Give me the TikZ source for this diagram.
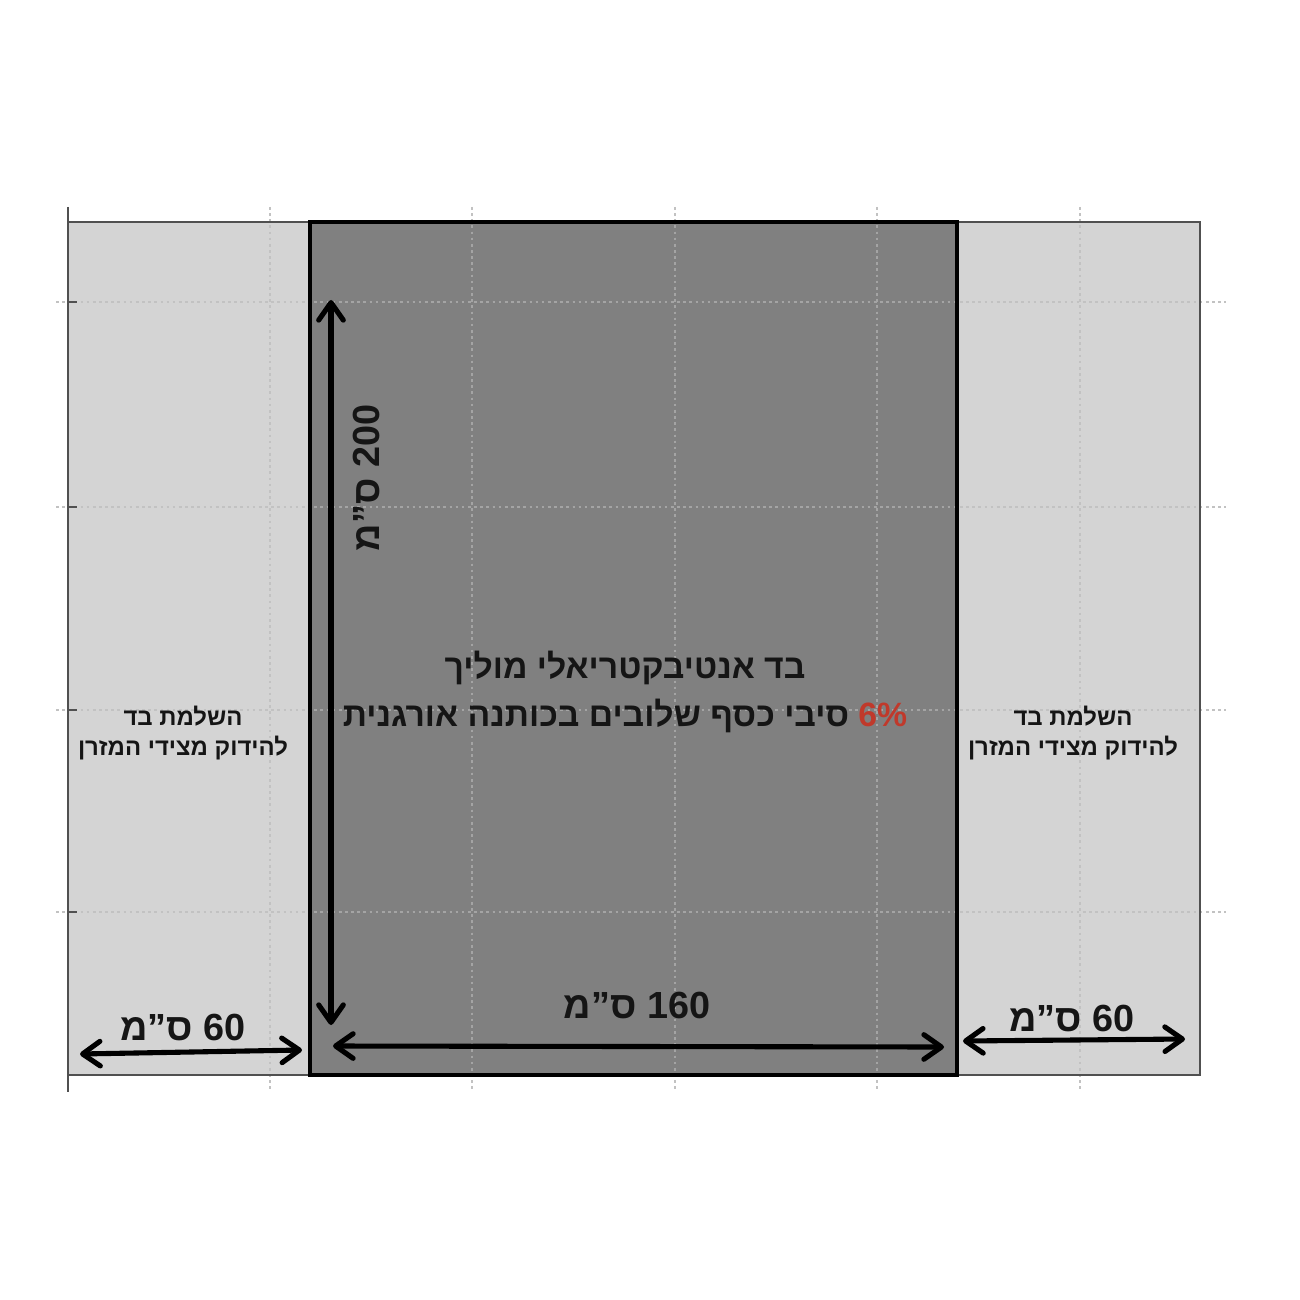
\documentclass[tikz,border=0pt]{standalone}
\usepackage{fontspec}
\setmainfont{Liberation Sans}
\newfontfamily\hebfont[Script=Hebrew]{Liberation Sans}
\TeXXeTstate=1
\usetikzlibrary{arrows.meta}
\definecolor{lightfill}{HTML}{D4D4D4}
\definecolor{darkfill}{HTML}{808080}
\definecolor{gridc}{HTML}{C2C2C2}
\definecolor{griddark}{HTML}{A4A4A4}
\definecolor{axisc}{HTML}{505050}
\definecolor{pct}{HTML}{C0392B}
\definecolor{inkc}{HTML}{151515}
\tikzset{
  barb/.tip={Straight Barb[length=10pt,width=14pt,line width=2.9pt,line cap=round,line join=round]},
  dimarrow/.style={draw=black,line width=2.9pt,barb-barb},
  gridline/.style={line width=0.9pt,dash pattern=on 1.5pt off 2pt},
  sidebox/.style={fill=lightfill},
  dimlabel/.style={font=\hebfont\bfseries\fontsize{21.5pt}{25pt}\selectfont,text=inkc,inner sep=0pt},
  sidelabel/.style={font=\hebfont\bfseries\fontsize{13.6pt}{17pt}\selectfont,text=inkc,align=center,inner sep=0pt},
  mainlabel/.style={font=\hebfont\bfseries\fontsize{19.2pt}{27.5pt}\selectfont,text=inkc,align=center,inner sep=0pt}
}
\begin{document}
\begin{tikzpicture}[x=0.02cm,y=-0.02cm]
\useasboundingbox (0,0) rectangle (1300,1300);
\fill[white] (0,0) rectangle (1300,1300);
% panels
\fill[sidebox] (68,222) rectangle (310,1075);
\fill[sidebox] (957,222) rectangle (1200,1075);
\fill[darkfill] (310,222) rectangle (957,1075);
% grid
\foreach \gx in {270,472,675,877,1080} \draw[gridline,draw=gridc] (\gx,207) -- (\gx,1092);
\foreach \gy in {302,507,710,912} \draw[gridline,draw=gridc] (56,\gy) -- (1226,\gy);
\begin{scope}
\clip (310,222) rectangle (957,1075);
\foreach \gx in {270,472,675,877,1080} \draw[gridline,draw=griddark] (\gx,207) -- (\gx,1092);
\foreach \gy in {302,507,710,912} \draw[gridline,draw=griddark] (56,\gy) -- (1226,\gy);
\end{scope}
% axis and borders
\draw[axisc,line width=1.4pt] (68,207) -- (68,1092);
\foreach \gy in {302,507,710,912} \draw[axisc,line width=1.2pt] (68,\gy) -- (77,\gy);
\draw[axisc,line width=1.4pt] (68,222) -- (310,222);
\draw[axisc,line width=1.4pt] (68,1075) -- (1200,1075);
\draw[axisc,line width=1.4pt] (957,222) rectangle (1200,1075);
\draw[black,line width=1.8pt] (310,222) rectangle (957,1075);
% arrow end points
\coordinate (vtop) at (331,300);
\coordinate (vbot) at (331,1025);
\coordinate (ll) at (80,1054);
\coordinate (lr) at (302,1050);
\coordinate (cl) at (333,1046);
\coordinate (cr) at (944,1047);
\coordinate (rl) at (963,1041);
\coordinate (rr) at (1185,1039);
\draw[dimarrow] (vtop) -- (vbot);
\draw[dimarrow] (ll) -- (lr);
\draw[dimarrow] (cl) -- (cr);
\draw[dimarrow] (rl) -- (rr);
% labels
\node[dimlabel] (lw) at (183,1027) {\beginR\beginL 60\endL{} ס”מ\endR};
\node[dimlabel] (cw) at (637,1005) {\beginR\beginL 160\endL{} ס”מ\endR};
\node[dimlabel] (rw) at (1072,1018) {\beginR\beginL 60\endL{} ס”מ\endR};
\node[dimlabel,rotate=90] (vh) at (366,478) {\beginR\beginL 200\endL{} ס”מ\endR};
\node[mainlabel] (main) at (625,692) {\beginR בד אנטיבקטריאלי מוליך\endR\\\beginR\beginL\textcolor{pct}{6\%}\endL{} סיבי כסף שלובים בכותנה אורגנית\endR};
\node[sidelabel] (lt) at (183,733) {\beginR השלמת בד\endR\\\beginR להידוק מצידי המזרן\endR};
\node[sidelabel] (rt) at (1073,733) {\beginR השלמת בד\endR\\\beginR להידוק מצידי המזרן\endR};
\end{tikzpicture}
\end{document}
